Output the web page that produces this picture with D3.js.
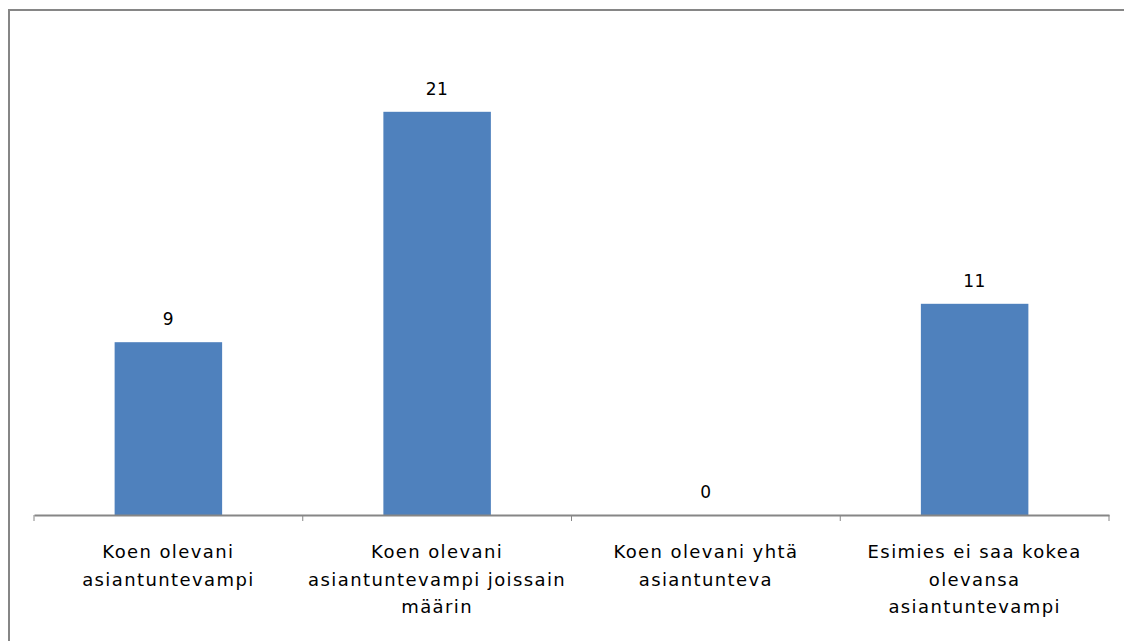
<!DOCTYPE html>
<html>
<head>
<meta charset="utf-8">
<script src="https://cdn.jsdelivr.net/npm/d3@7"></script>
<style>
  body { margin: 0; background: #fff; }
  svg text { font-family: "DejaVu Sans", sans-serif; fill: #000; }
</style>
</head>
<body>
<svg id="chart"></svg>
<script>
// chart data
const categories = ['c1', 'c2', 'c3', 'c4'];
const tickLines = [
    ['Koen olevani', 'asiantuntevampi'],
    ['Koen olevani', 'asiantuntevampi joissain', 'määrin'],
    ['Koen olevani yhtä', 'asiantunteva'],
    ['Esimies ei saa kokea', 'olevansa', 'asiantuntevampi']
];
const values = [9, 21, 0, 11];

const width = 1124, height = 641;
const margin = {top: 35, right: 15, bottom: 126, left: 34};

const svg = d3.select('#chart')
    .attr('width', width)
    .attr('height', height);

// outer frame (right/bottom edges run off the picture)
svg.append('rect')
    .attr('x', 9).attr('y', 10)
    .attr('width', 1140).attr('height', 660)
    .attr('fill', 'none')
    .attr('stroke', '#868686')
    .attr('stroke-width', 2);

const x = d3.scaleBand()
    .domain(categories)
    .range([margin.left, width - margin.right])
    .paddingInner(0.6)
    .paddingOuter(0.3);

const y = d3.scaleLinear()
    .domain([0, 25])
    .range([height - margin.bottom, margin.top]);

const base = y(0);

// bars
svg.selectAll('rect.bar')
    .data(values)
    .enter()
    .append('rect')
    .attr('class', 'bar')
    .attr('x', (d, i) => x(categories[i]))
    .attr('y', d => y(d))
    .attr('width', x.bandwidth())
    .attr('height', d => base - y(d))
    .attr('fill', '#4F81BD');

// value labels
svg.selectAll('text.val')
    .data(values)
    .enter()
    .append('text')
    .attr('class', 'val')
    .attr('x', (d, i) => x(categories[i]) + x.bandwidth() / 2)
    .attr('y', d => y(d) - 17)
    .attr('text-anchor', 'middle')
    .style('font-size', '17px')
    .style('letter-spacing', '0.5px')
    .text(d => d);

// x axis
const axis = svg.append('g')
    .attr('transform', `translate(0,${base})`)
    .call(d3.axisBottom(x).tickSize(0).tickSizeOuter(0).tickFormat(''));
axis.select('.domain').attr('stroke', '#868686').attr('stroke-width', 2);

// boundary ticks between categories
const step = x.step();
const bounds = categories.map(c => x(c) - step * x.paddingInner() / 2);
bounds.push(bounds[bounds.length - 1] + step);
svg.selectAll('line.tick')
    .data(bounds)
    .enter()
    .append('line')
    .attr('x1', d => d).attr('x2', d => d)
    .attr('y1', base).attr('y2', base + 6)
    .attr('stroke', '#868686')
    .attr('stroke-width', 1);

// category labels, multi-line
axis.selectAll('.tick').each(function(c, i) {
    const t = d3.select(this).append('text')
        .attr('text-anchor', 'middle')
        .attr('y', 43)
        .style('font-size', '18px')
        .style('letter-spacing', '1.4px');
    tickLines[i].forEach((line, j) => {
        t.append('tspan')
            .attr('x', 0)
            .attr('dy', j === 0 ? 0 : 27.5)
            .text(line);
    });
});
</script>
</body>
</html>
